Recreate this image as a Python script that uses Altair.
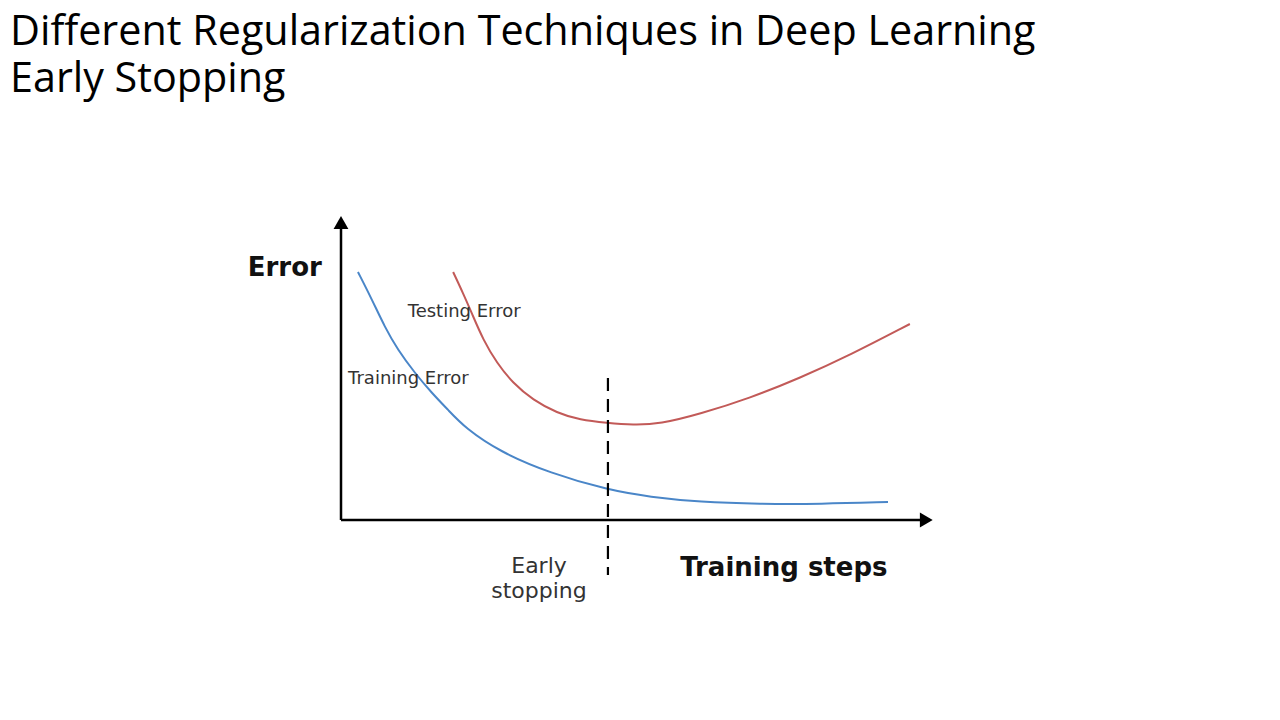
import altair as alt
import pandas as pd

# Curves (x: training steps 0-100, y: error 0-100)
train_x = [3.1, 5.7, 8.0, 10.4, 13.5, 16.6, 19.6, 22.7, 29.1, 38.2, 48.8, 56.5, 65.6, 76.6, 87.6, 100.0]
train_y = [99.2, 88.0, 77.2, 68.0, 58.8, 50.8, 44.0, 36.8, 27.2, 18.8, 12.0, 9.2, 7.2, 6.4, 6.4, 7.2]

test_x = [20.5, 22.3, 23.9, 26.0, 28.5, 31.4, 35.1, 39.5, 43.7, 48.6, 53.4, 58.3, 65.6, 74.8, 83.9, 93.1, 104.0]
test_y = [99.2, 90.8, 82.8, 72.0, 62.8, 54.8, 48.0, 42.8, 40.0, 38.8, 38.0, 38.4, 42.4, 48.8, 56.8, 66.0, 78.4]

stop_x = 48.8

BLUE = "#4a86c8"
RED = "#c25a58"
FONT = "DejaVu Sans"

X_SCALE = alt.Scale(domain=[0, 100], range=[341, 888])
Y_SCALE = alt.Scale(domain=[0, 100], range=[420, 170])

train_df = pd.DataFrame({"step": train_x, "error": train_y, "series": "Training Error"})
test_df = pd.DataFrame({"step": test_x, "error": test_y, "series": "Testing Error"})

def xenc(field="step"):
    return alt.X(field, type="quantitative", scale=X_SCALE, axis=None)

def yenc(field="error"):
    return alt.Y(field, type="quantitative", scale=Y_SCALE, axis=None)

train_line = alt.Chart(train_df).mark_line(color=BLUE, strokeWidth=2, interpolate="basis").encode(
    x=xenc(), y=yenc(), order="step:Q")
test_line = alt.Chart(test_df).mark_line(color=RED, strokeWidth=2, interpolate="basis").encode(
    x=xenc(), y=yenc(), order="step:Q")

# Axes with arrow heads
axes_df = pd.DataFrame({"x1": [0, 0], "x2": [107, 0], "y1": [0, 0], "y2": [0, 119]})
axes = alt.Chart(axes_df).mark_rule(color="black", strokeWidth=2.5).encode(
    x=xenc("x1"), x2="x2:Q", y=yenc("y1"), y2="y2:Q")

arrow_up = alt.Chart(pd.DataFrame({"x": [0], "y": [119]})).mark_point(
    shape="triangle-up", filled=True, color="black", size=220, opacity=1).encode(x=xenc("x"), y=yenc("y"))
arrow_right = alt.Chart(pd.DataFrame({"x": [107], "y": [0]})).mark_point(
    shape="triangle-right", filled=True, color="black", size=220, opacity=1).encode(x=xenc("x"), y=yenc("y"))

# Early stopping dashed line
stop_df = pd.DataFrame({"x": [stop_x], "y1": [56.8], "y2": [-22.0]})
stop_line = alt.Chart(stop_df).mark_rule(color="black", strokeWidth=2.2, strokeDash=[13, 8]).encode(
    x=xenc("x"), y=yenc("y1"), y2="y2:Q")

# Labels
label_text = ["Error", "Training steps", "Testing Error", "Training Error"]
label_x = [-3.5, 62.0, 12.2, 1.3]
label_y = [101.0, -19.2, 83.2, 56.4]
labels_df = pd.DataFrame({"x": label_x, "y": label_y, "text": label_text})

err_label = alt.Chart(labels_df.iloc[[0]]).mark_text(
    font=FONT, fontSize=26, fontWeight="bold", align="right", baseline="middle", color="#111111").encode(
    x=xenc("x"), y=yenc("y"), text="text:N")
steps_label = alt.Chart(labels_df.iloc[[1]]).mark_text(
    font=FONT, fontSize=26, fontWeight="bold", align="left", baseline="middle", color="#111111").encode(
    x=xenc("x"), y=yenc("y"), text="text:N")
curve_labels = alt.Chart(labels_df.iloc[[2, 3]]).mark_text(
    font=FONT, fontSize=18, align="left", baseline="middle", color="#333333").encode(
    x=xenc("x"), y=yenc("y"), text="text:N")

early_text = ["Early", "stopping"]
early_y = [-18.4, -28.4]
early_df = pd.DataFrame({"x": [36.2, 36.2], "y": early_y, "text": early_text})
early_label = alt.Chart(early_df).mark_text(
    font=FONT, fontSize=22, align="center", baseline="middle", color="#333333").encode(
    x=xenc("x"), y=yenc("y"), text="text:N")

chart = alt.layer(
    axes, arrow_up, arrow_right, train_line, test_line, stop_line,
    err_label, steps_label, curve_labels, early_label,
).properties(
    width=1280,
    height=620,
    background="white",
    title=alt.TitleParams(
        text=["Different Regularization Techniques in Deep Learning", "Early Stopping"],
        anchor="start", frame="group", font="Open Sans", fontSize=41.3, fontWeight="normal",
        color="black", lineHeight=47, offset=0, dx=10,
    ),
    padding={"left": 0, "top": 100, "right": 0, "bottom": 0},
    autosize=alt.AutoSizeParams(type="none"),
).configure_view(strokeWidth=0, stroke="transparent")

chart.save("out.html", embed_options={"renderer": "svg", "actions": False})
